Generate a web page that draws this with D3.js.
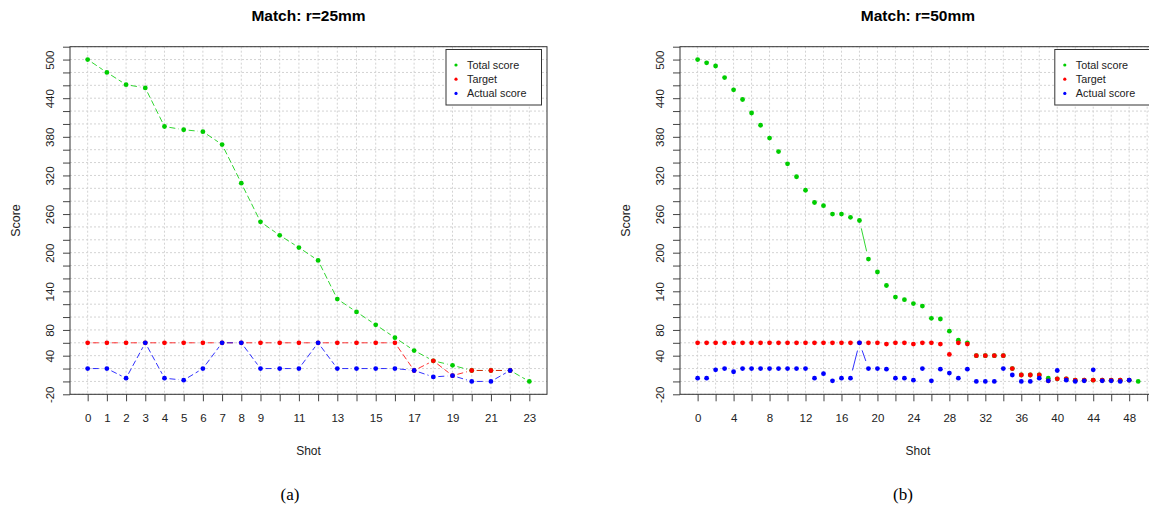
<!DOCTYPE html>
<html>
<head>
<meta charset="utf-8">
<script src="https://cdn.jsdelivr.net/npm/d3@7"></script>
<style>
  body { margin: 0; background: #fff; }
  svg { display: block; font-family: "Liberation Sans", Arial, sans-serif; }
</style>
</head>
<body>
<div id="chart"></div>
<script>
// values per shot, shot number = index in the array
const totalA  = [500, 480, 461, 456, 396, 391, 388, 368, 308, 248, 227, 208, 188, 128, 108, 88, 68, 48, 32, 25, 17, 17, 17, 0]
const targetA = [60, 60, 60, 60, 60, 60, 60, 60, 60, 60, 60, 60, 60, 60, 60, 60, 60, 17, 32, 9, 17, 17, 17]
const actualA = [20, 20, 5, 60, 5, 2, 20, 60, 60, 20, 20, 20, 60, 20, 20, 20, 20, 17, 7, 9, 0, 0, 17]

const totalB  = [500, 495, 490, 472, 453, 438, 417, 398, 378, 357, 338, 318, 297, 278, 273, 260, 260, 255, 250, 190,
                 170, 149, 131, 127, 121, 117, 98, 97, 78, 64, 60, 40, 40, 40, 40, 20, 10, 10, 10, 5,
                 4, 4, 2, 2, 2, 2, 2, 2, 2, 0]
const targetB = [60, 60, 60, 60, 60, 60, 60, 60, 60, 60, 60, 60, 60, 60, 60, 60, 60, 60, 60, 60,
                 60, 58, 60, 60, 58, 60, 60, 58, 42, 60, 58, 40, 40, 40, 40, 20, 10, 10, 10, 1,
                 4, 4, 2, 2, 2, 2, 2, 2, 2]
const actualB = [5, 5, 18, 20, 15, 20, 20, 20, 20, 20, 20, 20, 20, 5, 12, 1, 5, 5, 60, 20,
                 20, 19, 5, 5, 2, 20, 1, 19, 13, 5, 19, 0, 0, 0, 20, 10, 0, 0, 5, 1,
                 17, 2, 0, 1, 18, 1, 1, 0, 2]

const seriesNames = ["Total score", "Target", "Actual score"]
const seriesColors = ["#00cd00", "#ff0000", "#0000ff"]

const yDomain = [-20, 520]
const yLabels = [-20, 40, 80, 140, 200, 260, 320, 380, 440, 500]
const xLabelsA = [0, 1, 2, 3, 4, 5, 6, 7, 8, 9, 11, 13, 15, 17, 19, 21, 23]
const xLabelsB = [0, 4, 8, 12, 16, 20, 24, 28, 32, 36, 40, 44, 48]

const width = 1149
const height = 512
const plotTop = 46.7, plotBottom = 394.3

const panels = [
    { title: "Match: r=25mm", caption: "(a)", data: [totalA, targetA, actualA],
      xTicks: d3.range(0, 24), xLabels: xLabelsA, x0: 70, x1: 547, capX: 290, gap: 5, dash: "6,3" },
    { title: "Match: r=50mm", caption: "(b)", data: [totalB, targetB, actualB],
      xTicks: d3.range(0, 51, 2), xLabels: xLabelsB, x0: 680, x1: 1155.8, capX: 903, gap: 8, dash: null }
]

const svg = d3.select("#chart").append("svg")
    .attr("width", width)
    .attr("height", height)

svg.append("rect").attr("width", width).attr("height", height).attr("fill", "#fff")

// R type="b": lines stop short of each point
function broken(pts, gap) {
    const segs = []
    for (let i = 1; i < pts.length; i++) {
        const [ax, ay] = pts[i - 1], [bx, by] = pts[i]
        const f = gap / Math.hypot(bx - ax, by - ay)
        if (f < 0.5) segs.push([ax + f * (bx - ax), ay + f * (by - ay), bx - f * (bx - ax), by - f * (by - ay)])
    }
    return segs
}

for (const p of panels) {
    const n = p.data[0].length - 1
    const x = d3.scaleLinear().domain([-0.04 * n, n * 1.04]).range([p.x0, p.x1])
    const y = d3.scaleLinear().domain(yDomain).range([plotBottom, plotTop])
    const g = svg.append("g")

    // grid
    g.append("g").selectAll("line").data(p.xTicks).join("line")
        .attr("x1", d => x(d)).attr("x2", d => x(d))
        .attr("y1", plotTop).attr("y2", plotBottom)
        .attr("stroke", "#d3d3d3").attr("stroke-dasharray", "2,2")
    g.append("g").selectAll("line").data(d3.range(-20, 521, 20)).join("line")
        .attr("x1", p.x0).attr("x2", p.x1)
        .attr("y1", d => y(d)).attr("y2", d => y(d))
        .attr("stroke", "#d3d3d3").attr("stroke-dasharray", "2,2")

    // axes
    const yAxis = g.append("g")
        .attr("transform", `translate(${p.x0},0)`)
        .call(d3.axisLeft(y).tickValues(d3.range(-20, 521, 20)).tickSize(7).tickSizeOuter(0)
            .tickFormat(d => yLabels.includes(d) ? d : ""))
    yAxis.select(".domain").remove()
    yAxis.selectAll("line").attr("stroke", "#444")
    yAxis.selectAll("text")
        .attr("transform", "rotate(-90)")
        .attr("x", 0).attr("y", -16.5).attr("dy", 0)
        .attr("text-anchor", "middle")
        .attr("font-size", "11.5px").attr("font-family", "Liberation Sans, Arial, sans-serif")
        .attr("fill", "#222")

    const xAxis = g.append("g")
        .attr("transform", `translate(0,${plotBottom})`)
        .call(d3.axisBottom(x).tickValues(p.xTicks).tickSize(7).tickSizeOuter(0)
            .tickFormat(d => p.xLabels.includes(d) ? d : ""))
    xAxis.select(".domain").remove()
    xAxis.selectAll("line").attr("stroke", "#444")
    xAxis.selectAll("text")
        .attr("y", 28).attr("dy", 0)
        .attr("font-size", "11.5px").attr("font-family", "Liberation Sans, Arial, sans-serif")
        .attr("fill", "#222")

    // box
    g.append("rect")
        .attr("x", p.x0).attr("y", plotTop)
        .attr("width", p.x1 - p.x0).attr("height", plotBottom - plotTop)
        .attr("fill", "none").attr("stroke", "#333")

    // series
    p.data.forEach((vals, k) => {
        const pts = vals.map((v, i) => [x(i), y(v)])
        g.append("g").selectAll("line").data(broken(pts, p.gap)).join("line")
            .attr("x1", d => d[0]).attr("y1", d => d[1])
            .attr("x2", d => d[2]).attr("y2", d => d[3])
            .attr("stroke", seriesColors[k]).attr("stroke-opacity", 0.8)
            .attr("stroke-dasharray", p.dash)
        g.append("g").selectAll("circle").data(pts).join("circle")
            .attr("cx", d => d[0]).attr("cy", d => d[1])
            .attr("r", 2.4).attr("fill", seriesColors[k])
    })

    // legend
    const lx = p.x1 - 101
    const legend = g.append("g").attr("transform", `translate(${lx},49.5)`)
    legend.append("rect")
        .attr("width", 95.5).attr("height", 55.5)
        .attr("fill", "#fff").attr("stroke", "#333")
    seriesNames.forEach((name, k) => {
        legend.append("circle").attr("cx", 10).attr("cy", 15.5 + k * 14.2).attr("r", 1.6).attr("fill", seriesColors[k])
        legend.append("text").attr("x", 21).attr("y", 19.3 + k * 14.2)
            .attr("font-size", "10.8px").attr("fill", "#222").text(name)
    })

    // labels
    const cx = (p.x0 + p.x1) / 2
    svg.append("text").attr("x", cx).attr("y", 20.7)
        .attr("text-anchor", "middle").attr("font-weight", "bold").attr("font-size", "15.5px")
        .text(p.title)
    svg.append("text").attr("x", cx).attr("y", 454.5)
        .attr("text-anchor", "middle").attr("font-size", "12px").attr("fill", "#222")
        .text("Shot")
    svg.append("text")
        .attr("transform", `translate(${p.x0 - 50},${(plotTop + plotBottom) / 2}) rotate(-90)`)
        .attr("text-anchor", "middle").attr("font-size", "12.5px").attr("fill", "#222")
        .text("Score")
    svg.append("text").attr("x", p.capX).attr("y", 500)
        .attr("text-anchor", "middle").attr("font-size", "17px")
        .attr("font-family", "Liberation Serif, Times New Roman, serif")
        .text(p.caption)
}
</script>
</body>
</html>
